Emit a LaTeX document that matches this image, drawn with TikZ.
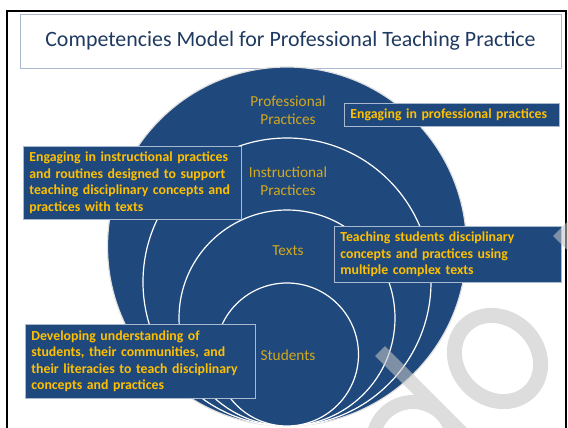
\documentclass[tikz,border=0pt]{standalone}
\usepackage{fontspec}
\setmainfont{Carlito}

\definecolor{slateblue}{HTML}{1F497D}
\definecolor{boxgold}{HTML}{FFC000}
\definecolor{ringgold}{HTML}{D2A81E}
\definecolor{titleblue}{HTML}{1F3A60}
\definecolor{edgegray}{HTML}{A9B9CF}
\definecolor{markgray}{HTML}{C4C4C4}

\tikzset{
  ring/.style={circle, draw=white, line width=1.2pt, fill=slateblue, inner sep=0pt},
  ringtext/.style={text=ringgold, align=center, font=\fontsize{15.3}{17.5}\selectfont},
  claim/.style={draw=edgegray, line width=0.8pt, fill=slateblue, text=boxgold,
    align=left, anchor=north west, inner xsep=6pt, inner ysep=2pt,
    font=\bfseries\fontsize{13.8}{16.5}\selectfont},
}

\begin{document}
\begin{tikzpicture}[x=1pt,y=-1pt]
  \useasboundingbox (0,0) rectangle (568,428);
  \begin{scope}
  \clip (0,0) rectangle (568,428);
  \draw [line width=2pt] (7,11) rectangle (566,470);
  \node [draw=edgegray, line width=0.8pt, minimum width=541pt, minimum height=54pt, text=titleblue, font=\fontsize{21.9}{26}\selectfont] (title) at (290.5,41) {Competencies Model for Professional Teaching Practice};

  % rings, all touching at the bottom
  \node [ring, draw=black!12, minimum size=359pt] (profring) at (287,246.5) {};
  \node [ring, minimum size=288pt] (instring) at (287,282) {};
  \node [ring, minimum size=216pt] (textring) at (287,318) {};
  \node [ring, minimum size=143pt] (studring) at (287,354.5) {};

  \node [ringtext] (profl) at (288,110) {Professional\\Practices};
  \node [ringtext] (instl) at (288,181) {Instructional\\Practices};
  \node [ringtext] (textl) at (288,251) {Texts};
  \node [ringtext] (studl) at (288,355) {Students};

  \node [claim, text width=203pt, minimum height=23pt] (profclaim) at (344,103) {Engaging in professional practices};
  \node [claim, text width=206pt, minimum height=73pt] (instclaim) at (23,146) {Engaging in instructional practices\\and routines designed to support\\teaching disciplinary concepts and\\practices with texts};
  \node [claim, text width=215pt, minimum height=56pt] (textclaim) at (334,226) {Teaching students disciplinary\\concepts and practices using\\multiple complex texts};
  \node [claim, text width=218pt, minimum height=74pt] (studclaim) at (25,324) {Developing understanding of\\students, their communities, and\\their literacies to teach disciplinary\\concepts and practices};

  % watermark
  \begin{scope}[opacity=0.58, transparency group]
    \draw [markgray, line width=14pt] (380,351) -- (480,451);
    \draw [markgray, line width=14pt] (413,442) circle [radius=40pt];
    \draw [markgray, line width=15pt, rotate around={-45:(497.5,358.5)}] (497.5,358.5) ellipse [x radius=46pt, y radius=40pt];
    \fill [markgray] (553,236) -- (568,221) -- (568,251) -- cycle;
  \end{scope}
  \end{scope}
\end{tikzpicture}
\end{document}
